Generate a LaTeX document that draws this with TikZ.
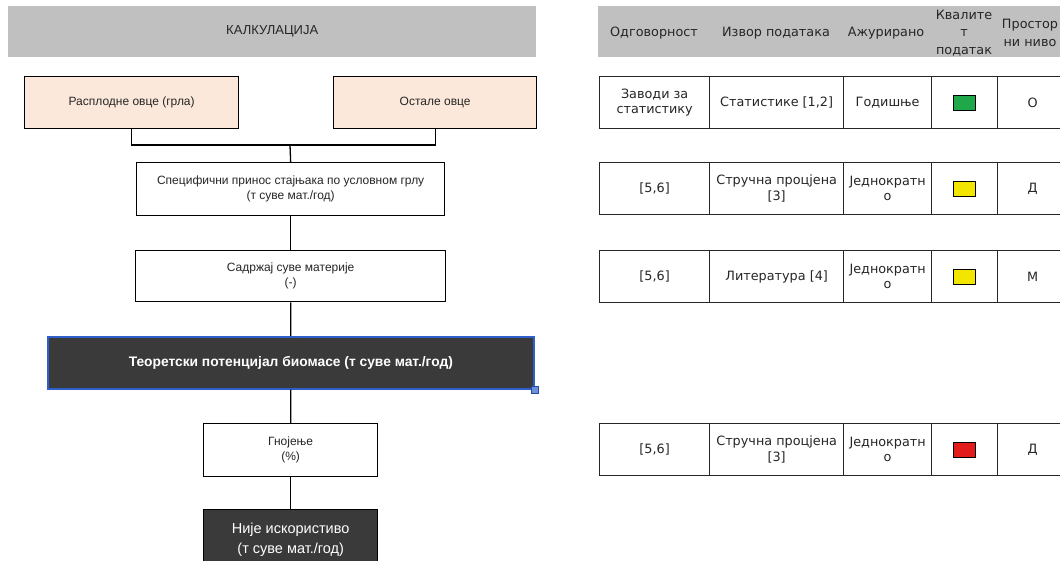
\documentclass[tikz,border=0pt]{standalone}
\usepackage{fontspec}
\setmainfont{Liberation Sans}
\newfontfamily\tabfont{DejaVu Sans}
\definecolor{hdrgray}{HTML}{C0C0C0}
\definecolor{peach}{HTML}{FCE8DA}
\definecolor{darkfill}{HTML}{3A3A3A}
\definecolor{selblue}{HTML}{2F5FCB}
\definecolor{qgreen}{HTML}{1EA84A}
\definecolor{qyellow}{HTML}{F2E600}
\definecolor{qred}{HTML}{E21B1B}
\definecolor{txt}{HTML}{262626}

\tikzset{
  hdr/.style={fill=hdrgray, draw=none, anchor=north west, inner sep=0pt},
  flowbox/.style={draw=black, line width=1.3pt, anchor=north west, align=center,
    inner sep=0pt, font=\fontsize{12}{15}\selectfont, text=txt},
  darkbox/.style={flowbox, fill=darkfill, text=white},
  conn/.style={draw=black, line width=1.3pt},
  cell/.style={draw=black!85, line width=1.3pt, anchor=north west, align=center,
    inner sep=0pt, minimum height=52, font=\tabfont\fontsize{12.8}{15.5}\selectfont, text=txt},
  hdrtext/.style={font=\tabfont\fontsize{12.8}{17.5}\selectfont, align=center, text=txt},
  qbox/.style={draw=black, line width=0.9pt, fill=#1, minimum width=22, minimum height=15, inner sep=0pt},
}

% one row of the data table: name, top, responsibility, source, update, quality colour, spatial level
\newcommand\datarow[7]{%
  \node[cell, minimum width=110] (#1a) at (599,#2) {#3};
  \node[cell, minimum width=134] (#1b) at (709,#2) {#4};
  \node[cell, minimum width=88]  (#1c) at (843,#2) {#5};
  \node[cell, minimum width=66]  (#1d) at (931,#2) {};
  \node[cell, minimum width=70]  (#1e) at (997,#2) {#7};
  \node[qbox=#6] (#1q) at (#1d.center) {};
}

\begin{document}
\begin{tikzpicture}[x=1pt, y=-1pt]
\useasboundingbox (0,0) rectangle (1060,560);
\clip (0,0) rectangle (1060,560);
\fill[white] (0,0) rectangle (1060,560);

% header bars
\node[hdr, minimum width=528, minimum height=51] (calc) at (8,6) {};
\node[font=\fontsize{13}{15}\selectfont, text=txt] (calct) at (calc.center) {КАЛКУЛАЦИЈА};
\node[hdr, minimum width=470, minimum height=51] (thead) at (598,6) {};
\node[hdrtext] (h1) at (654,33) {Одговорност};
\node[hdrtext] (h2) at (776,33) {Извор података};
\node[hdrtext] (h3) at (886,33) {Ажурирано};
\node[hdrtext] (h4) at (964,33) {Квалите\\т\\податак};
\node[hdrtext] (h5) at (1030,33) {Простор\\ни ниво};

% calculation flow, all centred on x = 290
\node[flowbox, fill=peach, minimum width=214, minimum height=52] (breed) at (24,76) {Расплодне овце (грла)};
\node[flowbox, fill=peach, minimum width=203, minimum height=52] (other) at (333,76) {Остале овце};
\node[flowbox, minimum width=308, minimum height=53] (spec) at (136,162) {Специфични принос стајњака по условном грлу\\(т суве мат./год)};
\node[flowbox, minimum width=310, minimum height=51] (dry) at (135,250) {Садржај суве материје\\(-)};
\node[darkbox, draw=selblue, line width=1.6pt, minimum width=486, minimum height=52,
      font=\bfseries\fontsize{13.8}{16}\selectfont] (theo) at (47,336) {Теоретски потенцијал биомасе (т суве мат./год)};
\node[draw=selblue!80!black, fill=selblue!70, line width=0.6pt, minimum size=7, inner sep=0pt] (handle) at (theo.south east) {};
\node[flowbox, minimum width=174, minimum height=53] (fert) at (203,423) {Гнојење\\(\%)};
\node[darkbox, minimum width=174, minimum height=60, font=\fontsize{14.5}{20}\selectfont] (unused) at (203,509) {Није искористиво\\(т суве мат./год)};

\coordinate (join) at (290,145);
\draw[conn] (breed.south) |- (join);
\draw[conn] (other.south) |- (join);
\draw[conn] (join) -- (spec.north);
\draw[conn] (spec.south) -- (dry.north);
\draw[conn] (dry.south) -- (theo.north);
\draw[conn] (theo.south) -- (fert.north);
\draw[conn] (fert.south) -- (unused.north);

% data table
\datarow{r1}{76}{Заводи за\\статистику}{Статистике [1,2]}{Годишње}{qgreen}{О}
\datarow{r2}{162}{[5,6]}{Стручна процјена\\{}[3]}{Једнократн\\о}{qyellow}{Д}
\datarow{r3}{250}{[5,6]}{Литература [4]}{Једнократн\\о}{qyellow}{М}
\datarow{r4}{423}{[5,6]}{Стручна процјена\\{}[3]}{Једнократн\\о}{qred}{Д}
\end{tikzpicture}
\end{document}
